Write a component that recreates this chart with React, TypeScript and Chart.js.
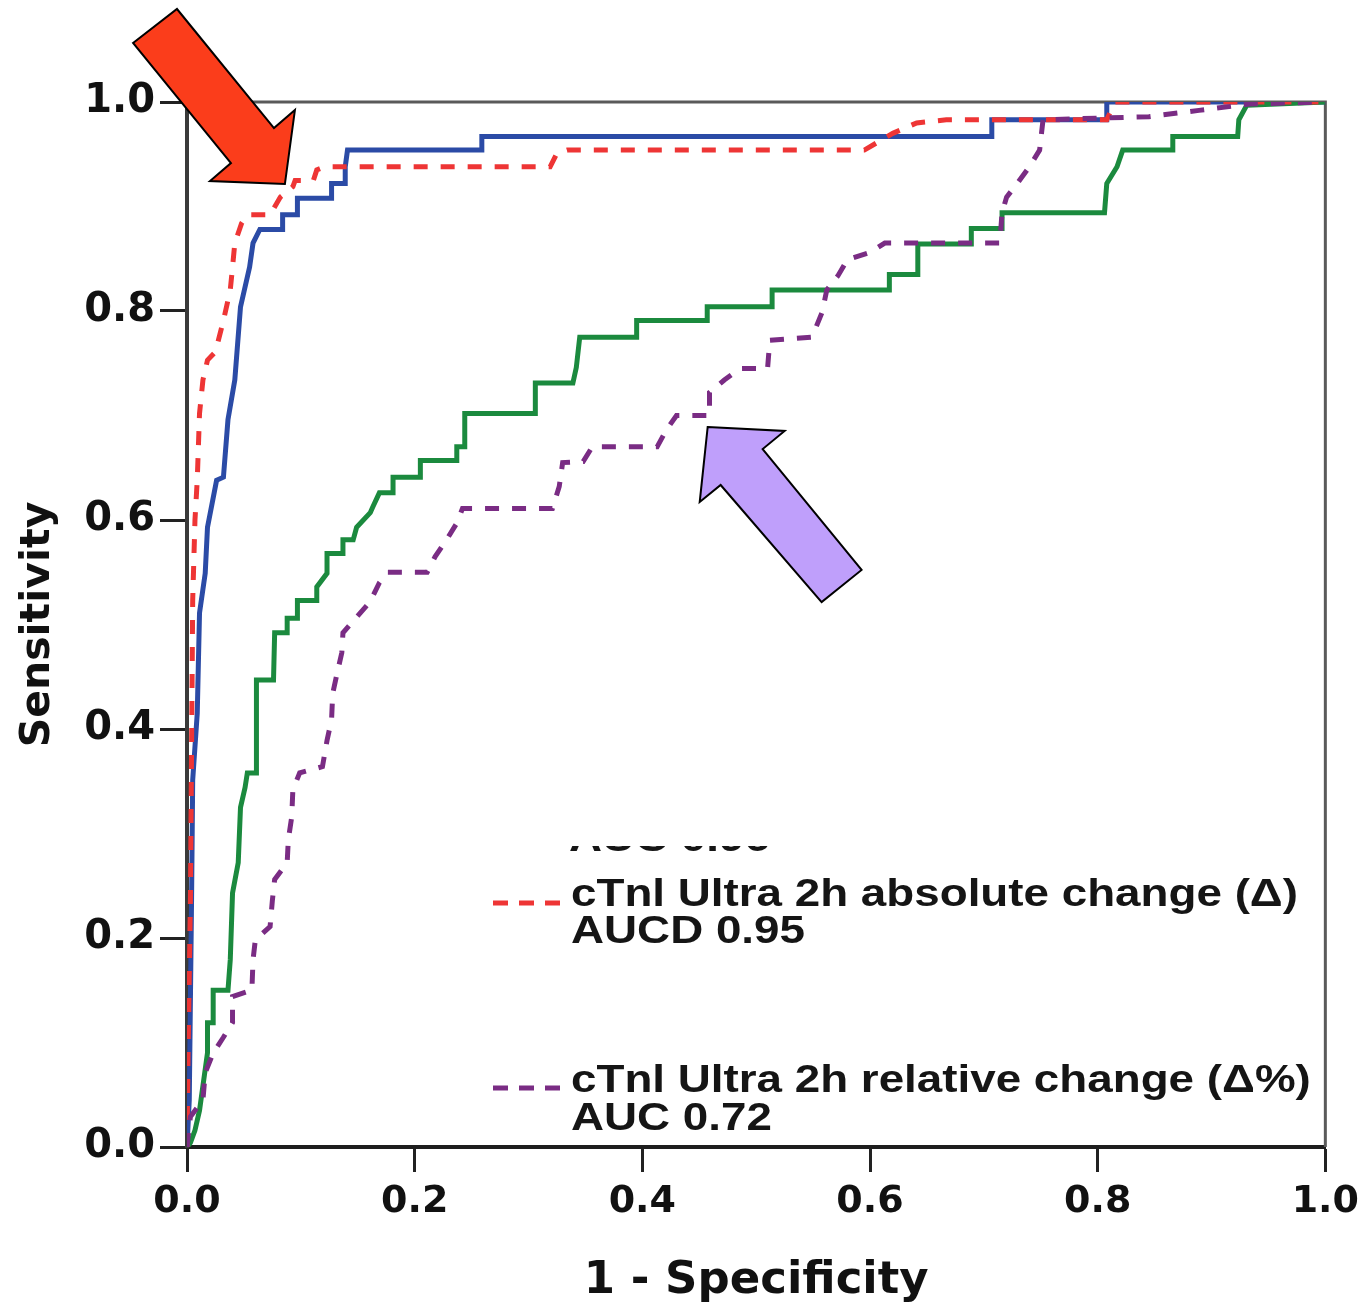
import React, { useEffect, useRef } from "react";
import { Chart, registerables } from "chart.js";

Chart.register(...registerables);

// ---- Data ----
const blueX = [0, 0.002, 0.004, 0.005, 0.009, 0.011, 0.016, 0.018, 0.026, 0.032, 0.036, 0.042, 0.047, 0.051, 0.055, 0.058, 0.064, 0.084, 0.084, 0.097, 0.097, 0.127, 0.127, 0.139, 0.139, 0.141, 0.259, 0.259, 0.707, 0.707, 0.808, 0.808, 1.0];
const blueY = [0, 0.045, 0.236, 0.351, 0.415, 0.511, 0.549, 0.593, 0.638, 0.641, 0.696, 0.734, 0.804, 0.823, 0.842, 0.865, 0.878, 0.878, 0.892, 0.892, 0.908, 0.908, 0.922, 0.922, 0.938, 0.954, 0.954, 0.967, 0.967, 0.983, 0.983, 1.0, 1.0];

const redX = [0, 0.001, 0.003, 0.004, 0.005, 0.007, 0.009, 0.011, 0.014, 0.018, 0.025, 0.032, 0.038, 0.040, 0.042, 0.048, 0.053, 0.073, 0.082, 0.093, 0.095, 0.111, 0.114, 0.121, 0.319, 0.325, 0.334, 0.595, 0.620, 0.641, 0.667, 0.808, 0.815, 1.0];
const redY = [0, 0.093, 0.236, 0.380, 0.523, 0.600, 0.638, 0.702, 0.734, 0.753, 0.761, 0.791, 0.820, 0.842, 0.865, 0.884, 0.892, 0.892, 0.909, 0.919, 0.925, 0.925, 0.935, 0.938, 0.938, 0.951, 0.954, 0.954, 0.970, 0.980, 0.983, 0.983, 1.0, 1.0];

const greenX = [0, 0.003, 0.007, 0.011, 0.018, 0.018, 0.023, 0.023, 0.036, 0.038, 0.040, 0.045, 0.047, 0.051, 0.053, 0.061, 0.061, 0.076, 0.077, 0.088, 0.088, 0.097, 0.097, 0.114, 0.114, 0.123, 0.123, 0.137, 0.137, 0.146, 0.149, 0.161, 0.163, 0.169, 0.181, 0.181, 0.205, 0.205, 0.237, 0.237, 0.244, 0.244, 0.306, 0.306, 0.339, 0.342, 0.345, 0.395, 0.395, 0.457, 0.457, 0.514, 0.514, 0.617, 0.617, 0.642, 0.642, 0.689, 0.689, 0.716, 0.716, 0.806, 0.808, 0.817, 0.822, 0.866, 0.866, 0.923, 0.924, 0.931, 1.0];
const greenY = [0, 0.004, 0.016, 0.035, 0.090, 0.119, 0.119, 0.150, 0.150, 0.179, 0.243, 0.272, 0.325, 0.344, 0.358, 0.358, 0.447, 0.447, 0.492, 0.492, 0.506, 0.506, 0.523, 0.523, 0.536, 0.549, 0.568, 0.568, 0.581, 0.581, 0.593, 0.607, 0.612, 0.626, 0.626, 0.641, 0.641, 0.657, 0.657, 0.670, 0.670, 0.702, 0.702, 0.731, 0.731, 0.746, 0.775, 0.775, 0.791, 0.791, 0.804, 0.804, 0.820, 0.820, 0.835, 0.835, 0.864, 0.864, 0.879, 0.879, 0.894, 0.894, 0.922, 0.938, 0.954, 0.954, 0.967, 0.967, 0.983, 0.997, 1.0];

const purpleX = [0, 0.003, 0.014, 0.016, 0.023, 0.032, 0.040, 0.040, 0.057, 0.058, 0.060, 0.073, 0.075, 0.077, 0.088, 0.089, 0.092, 0.093, 0.099, 0.119, 0.123, 0.127, 0.128, 0.132, 0.136, 0.137, 0.149, 0.161, 0.169, 0.176, 0.211, 0.218, 0.228, 0.237, 0.242, 0.321, 0.327, 0.330, 0.348, 0.356, 0.413, 0.421, 0.430, 0.459, 0.459, 0.472, 0.486, 0.510, 0.512, 0.549, 0.558, 0.562, 0.572, 0.580, 0.600, 0.613, 0.714, 0.716, 0.720, 0.730, 0.740, 0.749, 0.752, 0.845, 0.889, 0.933, 1.0];
const purpleY = [0, 0.029, 0.045, 0.071, 0.090, 0.105, 0.119, 0.144, 0.150, 0.179, 0.198, 0.211, 0.236, 0.256, 0.272, 0.294, 0.316, 0.342, 0.358, 0.364, 0.389, 0.409, 0.434, 0.454, 0.473, 0.492, 0.507, 0.522, 0.540, 0.550, 0.550, 0.565, 0.581, 0.597, 0.611, 0.611, 0.632, 0.655, 0.656, 0.670, 0.670, 0.686, 0.700, 0.700, 0.722, 0.734, 0.745, 0.745, 0.772, 0.775, 0.799, 0.820, 0.834, 0.849, 0.856, 0.865, 0.865, 0.894, 0.909, 0.923, 0.938, 0.954, 0.983, 0.986, 0.992, 0.998, 1.0];

const xTickValues = [0, 0.2, 0.4, 0.6, 0.8, 1.0];
const yTickValues = [0, 0.2, 0.4, 0.6, 0.8, 1.0];

// Annotation arrows (in data units)
const redArrowX = [-0.0474, -0.0088, 0.0764, 0.0948, 0.0860, 0.0202, 0.0386];
const redArrowY = [1.0565, 1.0890, 0.9751, 0.9923, 0.9215, 0.9244, 0.9416];
const lavArrowX = [0.4574, 0.5250, 0.5057, 0.5926, 0.5575, 0.4688, 0.4504];
const lavArrowY = [0.6890, 0.6852, 0.6679, 0.5522, 0.5215, 0.6335, 0.6172];

const legendHidden = "AUC 0.96";
const legendAbs = ["cTnl Ultra 2h absolute change (\u0394)", "AUCD 0.95"];
const legendRel = ["cTnl Ultra 2h relative change (\u0394%)", "AUC 0.72"];

const RED = "#ee3535";
const BLUE = "#2b4ba6";
const GREEN = "#1b8a3e";
const PURPLE = "#7a2c84";

export default function App() {
  const ref = useRef<HTMLCanvasElement>(null);

  useEffect(() => {
    document.body.style.margin = "0";
    const canvas = ref.current;
    if (!canvas) return;
    const pts = (xs: number[], ys: number[]) => xs.map((x, i) => ({ x, y: ys[i] }));

    const framePlugin = {
      id: "frame",
      beforeDatasetsDraw(chart: any) {
        const { ctx, chartArea } = chart;
        ctx.save();
        ctx.strokeStyle = "#5a5a5a";
        ctx.lineWidth = 3;
        ctx.beginPath();
        ctx.moveTo(chartArea.left, chartArea.top);
        ctx.lineTo(chartArea.right, chartArea.top);
        ctx.lineTo(chartArea.right, chartArea.bottom);
        ctx.stroke();
        ctx.restore();
      },
    };

    const overlayPlugin = {
      id: "overlay",
      afterDraw(chart: any) {
        const { ctx } = chart;
        const xs = chart.scales.x;
        const ys = chart.scales.y;
        const drawArrow = (ax: number[], ay: number[], fill: string) => {
          ctx.save();
          ctx.beginPath();
          ax.forEach((v, i) => {
            const px = xs.getPixelForValue(v);
            const py = ys.getPixelForValue(ay[i]);
            if (i === 0) ctx.moveTo(px, py);
            else ctx.lineTo(px, py);
          });
          ctx.closePath();
          ctx.fillStyle = fill;
          ctx.fill();
          ctx.lineWidth = 2;
          ctx.strokeStyle = "#000";
          ctx.lineJoin = "miter";
          ctx.stroke();
          ctx.restore();
        };
        drawArrow(redArrowX, redArrowY, "#fb3d1b");
        drawArrow(lavArrowX, lavArrowY, "#bf9ffb");

        // legend
        ctx.save();
        ctx.font = 'bold 38px "Liberation Sans", Arial, sans-serif';
        ctx.fillStyle = "#151515";
        ctx.textBaseline = "alphabetic";
        const sx = 727 / ctx.measureText(legendAbs[0]).width;
        const drawText = (t: string, x: number, y: number) => {
          ctx.save();
          ctx.translate(x, y);
          ctx.scale(sx, 1);
          ctx.fillText(t, 0, 0);
          ctx.restore();
        };
        // partly hidden line above the legend
        ctx.save();
        ctx.beginPath();
        ctx.rect(560, 846, 300, 12);
        ctx.clip();
        drawText(legendHidden, 569, 851);
        ctx.restore();

        drawText(legendAbs[0], 571, 906);
        drawText(legendAbs[1], 571, 943);
        drawText(legendRel[0], 571, 1092);
        drawText(legendRel[1], 571, 1130);

        ctx.lineWidth = 5;
        ctx.setLineDash([15, 11]);
        ctx.strokeStyle = RED;
        ctx.beginPath();
        ctx.moveTo(493, 903);
        ctx.lineTo(564, 903);
        ctx.stroke();
        ctx.strokeStyle = PURPLE;
        ctx.beginPath();
        ctx.moveTo(493, 1088);
        ctx.lineTo(564, 1088);
        ctx.stroke();
        ctx.restore();
      },
    };

    const common = { pointRadius: 0, borderWidth: 5, fill: false, tension: 0 };

    const chart = new Chart(canvas, {
      type: "line",
      data: {
        datasets: [
          { label: "relative", data: pts(purpleX, purpleY), borderColor: PURPLE, borderDash: [14, 13], ...common },
          { label: "absolute", data: pts(redX, redY), borderColor: RED, borderDash: [14, 13], ...common },
          { label: "green", data: pts(greenX, greenY), borderColor: GREEN, ...common },
          { label: "blue", data: pts(blueX, blueY), borderColor: BLUE, ...common },
        ],
      },
      options: {
        responsive: false,
        animation: false,
        layout: { padding: { left: 0, right: 40, top: 102, bottom: 0 } },
        plugins: { legend: { display: false }, tooltip: { enabled: false } },
        scales: {
          x: {
            type: "linear",
            min: 0,
            max: 1,
            afterFit(s: any) {
              s.height = 163;
            },
            afterBuildTicks(s: any) {
              s.ticks = xTickValues.map((v) => ({ value: v }));
            },
            ticks: {
              padding: 7,
              color: "#111",
              font: { family: "DejaVu Sans", weight: "bold", size: 38 },
              callback: (v: any) => Number(v).toFixed(1),
              maxRotation: 0,
            },
            grid: { drawOnChartArea: false, tickLength: 25, tickColor: "#222", tickWidth: 3 },
            border: { color: "#1e1e1e", width: 4 },
            title: {
              display: true,
              text: "1 - Specificity",
              color: "#111",
              font: { family: "DejaVu Sans", weight: "bold", size: 45 },
              padding: { top: 0, bottom: 2 },
            },
          },
          y: {
            type: "linear",
            min: 0,
            max: 1,
            afterFit(s: any) {
              s.width = 187;
            },
            afterBuildTicks(s: any) {
              s.ticks = yTickValues.map((v) => ({ value: v }));
            },
            ticks: {
              padding: 5,
              color: "#111",
              font: { family: "DejaVu Sans", weight: "bold", size: 40 },
              callback: (v: any) => Number(v).toFixed(1),
            },
            grid: { drawOnChartArea: false, tickLength: 27, tickColor: "#222", tickWidth: 3 },
            border: { color: "#3a3a3a", width: 4 },
            title: {
              display: true,
              text: "Sensitivity",
              color: "#111",
              font: { family: "DejaVu Sans", weight: "bold", size: 41 },
              padding: { top: 14, bottom: 0 },
            },
          },
        },
      },
      plugins: [framePlugin, overlayPlugin],
    });
    return () => chart.destroy();
  }, []);

  return (
    <div style={{ position: "relative", width: 1366, height: 1310 }}>
      <canvas ref={ref} width={1366} height={1310} />
    </div>
  );
}
